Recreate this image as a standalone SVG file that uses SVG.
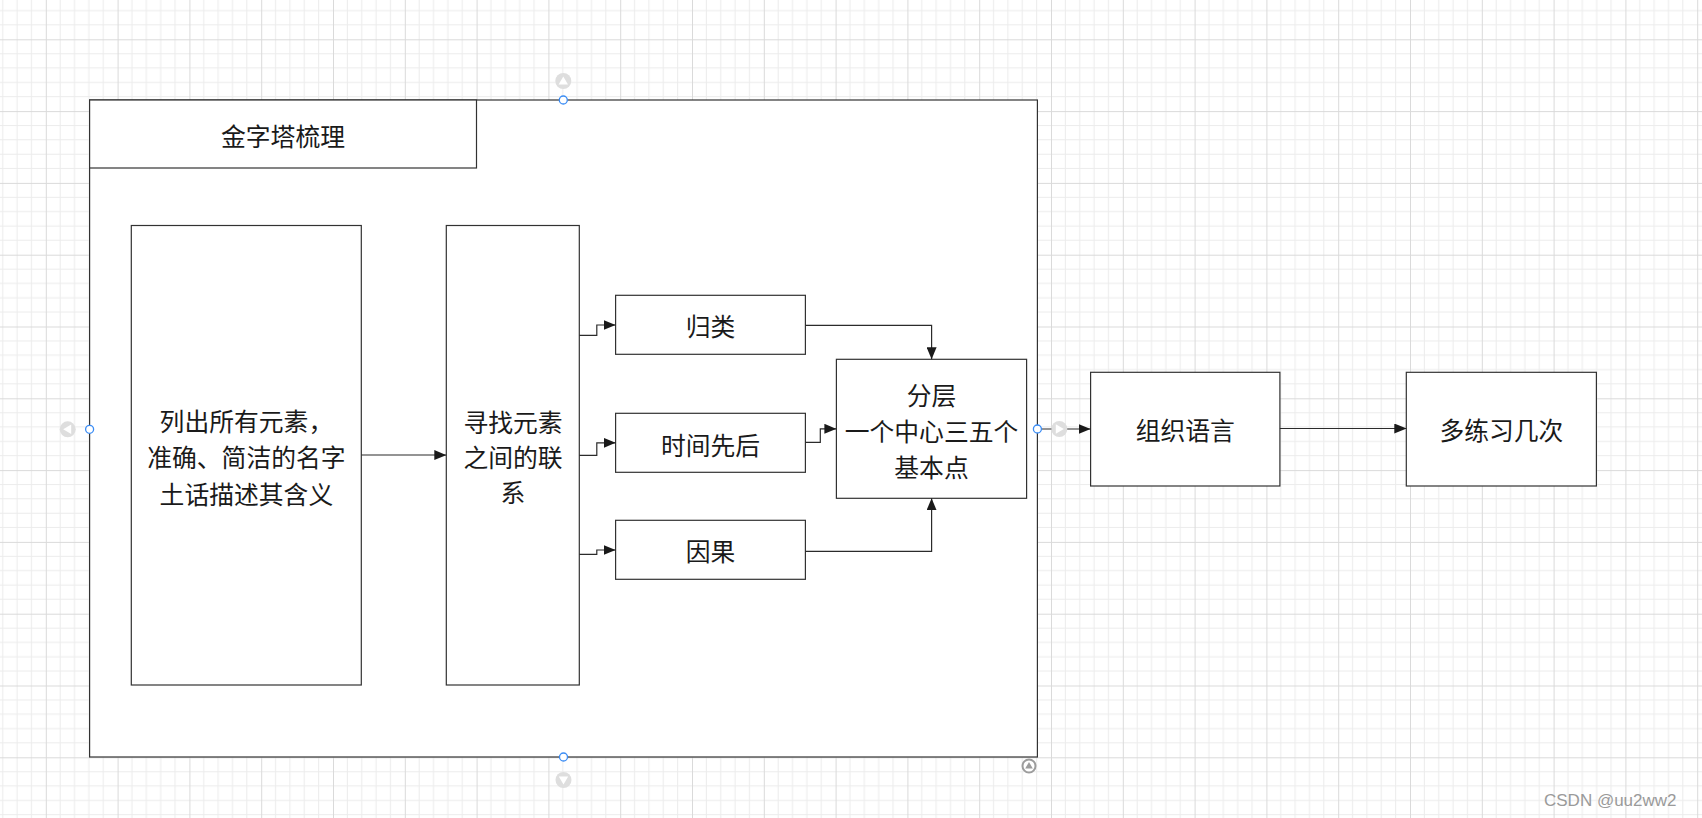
<svg xmlns="http://www.w3.org/2000/svg" width="1702" height="818" viewBox="0 0 1702 818">
  <style>
    .box { fill: #ffffff; stroke: #323232; stroke-width: 1.2; }
    .t { font-family: "Noto Sans CJK SC", "Microsoft YaHei", sans-serif; font-size: 24.8px; fill: #1a1a1a; text-anchor: middle; }
    .conn { fill: none; stroke: #2b2b2b; stroke-width: 1.2; marker-end: url(#arr); }
    .minor { stroke: #ececec; stroke-width: 1; }
    .major { stroke: #dadada; stroke-width: 1; }
    .hblue { fill: #ffffff; stroke: #3a8cf5; stroke-width: 1.3; }
    .hgray { fill: #dedede; }
    .tri { fill: #ffffff; }
    .wm { font-family: "Liberation Sans", Arial, sans-serif; font-size: 17px; fill: #9a9a9a; }
  </style>
  <defs>
    <marker id="arr" viewBox="0 0 12 10" refX="12" refY="5" markerWidth="12" markerHeight="10" markerUnits="userSpaceOnUse" orient="auto">
      <path d="M0,0 L12,5 L0,10 z" fill="#1a1a1a"/>
    </marker>
    <pattern id="grid" patternUnits="userSpaceOnUse" x="45.8" y="39.3" width="71.8" height="71.8">
      <rect width="71.8" height="71.8" fill="#ffffff"/>
      <path class="minor" d="M14.36,0 V71.8 M28.72,0 V71.8 M43.08,0 V71.8 M57.44,0 V71.8 M0,14.36 H71.8 M0,28.72 H71.8 M0,43.08 H71.8 M0,57.44 H71.8"/>
      <path class="major" d="M0.5,0 V71.8 M0,0.5 H71.8"/>
    </pattern>
  </defs>

  <rect x="0" y="0" width="1702" height="818" fill="url(#grid)"/>

  <g id="container">
    <rect class="box" x="89.6" y="100" width="947.8" height="657"/>
  </g>
  <g id="title">
    <rect class="box" x="89.6" y="100" width="386.9" height="68"/>
    <text class="t" x="283" y="146">金字塔梳理</text>
  </g>

  <g id="list-elements">
    <rect class="box" x="131.3" y="225.5" width="230" height="459.5"/>
    <text class="t" x="246.4" y="430.5">列出所有元素，</text>
    <text class="t" x="246.4" y="467">准确、简洁的名字</text>
    <text class="t" x="246.4" y="503.5">土话描述其含义</text>
  </g>

  <g id="find-relations">
    <rect class="box" x="446.3" y="225.5" width="133" height="459.5"/>
    <text class="t" x="513" y="431.5">寻找元素</text>
    <text class="t" x="513" y="466.5">之间的联</text>
    <text class="t" x="513" y="501.5">系</text>
  </g>

  <g id="classify">
    <rect class="box" x="615.6" y="295.3" width="189.8" height="59"/>
    <text class="t" x="710.5" y="336">归类</text>
  </g>

  <g id="time-order">
    <rect class="box" x="615.6" y="413.3" width="189.8" height="59"/>
    <text class="t" x="710.5" y="454.5">时间先后</text>
  </g>

  <g id="cause-effect">
    <rect class="box" x="615.6" y="520.3" width="189.8" height="59"/>
    <text class="t" x="710.5" y="561">因果</text>
  </g>

  <g id="layering">
    <rect class="box" x="836.4" y="359.3" width="190.2" height="139"/>
    <text class="t" x="931.5" y="404.8">分层</text>
    <text class="t" x="931.5" y="441">一个中心三五个</text>
    <text class="t" x="931.5" y="476.5">基本点</text>
  </g>

  <g id="organize-language">
    <rect class="box" x="1090.6" y="372.3" width="189.3" height="113.7"/>
    <text class="t" x="1185.3" y="440">组织语言</text>
  </g>

  <g id="practice">
    <rect class="box" x="1406.3" y="372.3" width="190.1" height="113.7"/>
    <text class="t" x="1501.4" y="440">多练习几次</text>
  </g>

  <g id="connectors">
    <path class="conn" d="M361.3,455 H446.3"/>
    <path class="conn" d="M579.3,335.3 H596.8 V325 H615.6"/>
    <path class="conn" d="M579.3,455.3 H596.8 V442.8 H615.6"/>
    <path class="conn" d="M579.3,554.3 H596.8 V550 H615.6"/>
    <path class="conn" d="M805.4,325.3 H931.6 V359.3"/>
    <path class="conn" d="M805.4,442.3 H820.3 V428.8 H836.4"/>
    <path class="conn" d="M805.4,551.3 H931.6 V498.3"/>
    <path class="conn" d="M1037.5,429 H1090.6"/>
    <path class="conn" d="M1279.9,428.5 H1406.3"/>
  </g>

  <g id="handles">
    <circle class="hgray" cx="563.3" cy="81" r="8"/>
    <path class="tri" d="M563.3,76.5 L568,84.5 L558.6,84.5 z"/>
    <circle class="hgray" cx="563.5" cy="780" r="8"/>
    <path class="tri" d="M563.5,784.5 L568.2,776.5 L558.8,776.5 z"/>
    <circle class="hgray" cx="67.7" cy="429.3" r="8"/>
    <path class="tri" d="M63.2,429.3 L71.2,424.6 L71.2,434 z"/>
    <circle class="hgray" cx="1059.3" cy="429" r="8"/>
    <path class="tri" d="M1063.8,429 L1055.8,424.3 L1055.8,433.7 z"/>
    <circle cx="1029" cy="766" r="6.5" fill="#ffffff" stroke="#9c9c9c" stroke-width="2"/>
    <path d="M1029,762 L1032.8,768.5 L1025.2,768.5 z" fill="#9c9c9c"/>
    <circle class="hblue" cx="563.3" cy="100" r="4"/>
    <circle class="hblue" cx="563.5" cy="757" r="4"/>
    <circle class="hblue" cx="89.6" cy="429.3" r="4"/>
    <circle class="hblue" cx="1037.4" cy="429" r="4"/>
  </g>

  <text class="wm" x="1544" y="806">CSDN @uu2ww2</text>
</svg>
